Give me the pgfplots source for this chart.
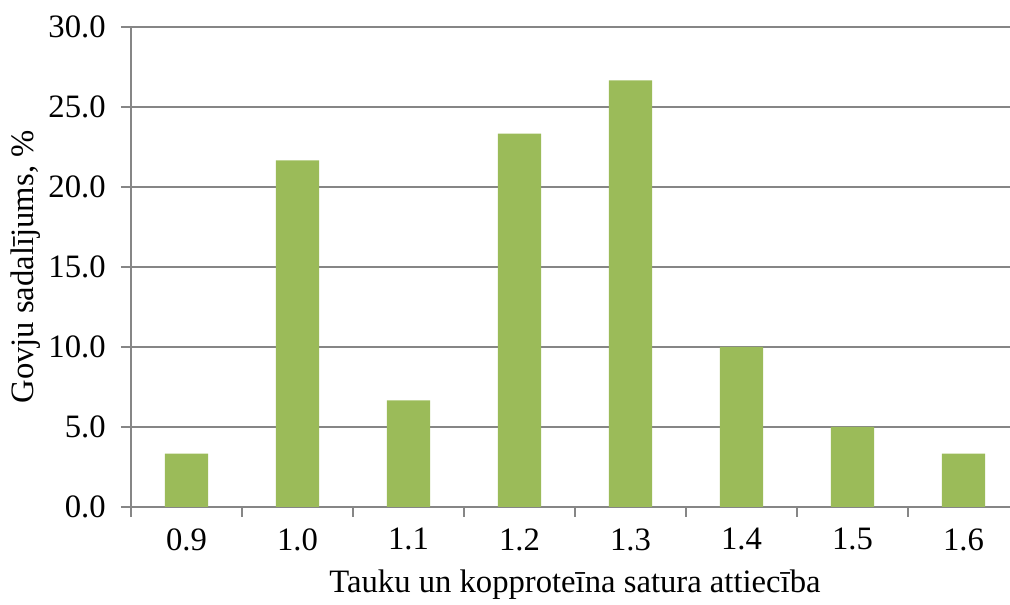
\documentclass[border=0pt]{standalone}
\usepackage{fontspec}
\setmainfont{Liberation Serif}
\usepackage{pgfplots}
\pgfplotsset{compat=1.18}
\definecolor{barg}{HTML}{9BBB59}
\definecolor{axg}{HTML}{868686}
\begin{document}
\begin{tikzpicture}
\useasboundingbox (0,0) rectangle (757.5pt,453.75pt);
\begin{axis}[
  at={(98.25pt,73.5pt)}, anchor=south west,
  scale only axis, width=666pt, height=360pt,
  xmin=-0.5, xmax=7.5, ymin=0, ymax=30,
  ytick={0,5,...,30},
  xtick={0,...,7},
  xticklabels={0.9,1.0,1.1,1.2,1.3,1.4,1.5,1.6},
  minor xtick={-0.5,0.5,...,7.5},
  major x tick style={draw=none},
  tick align=outside,
  major tick length=7.5pt, minor tick length=7.5pt,
  tick style={axg, line width=1.1pt},
  axis x line*=bottom, axis y line*=left,
  axis line style={axg, line width=1.1pt, -},
  ymajorgrids, grid style={axg, line width=1.1pt},
  yticklabel style={/pgf/number format/fixed, /pgf/number format/precision=1, /pgf/number format/fixed zerofill, xshift=-8pt},
  /pgf/number format/assume math mode=true,
  ticklabel style={font=\fontsize{24.5}{28}\selectfont},
  label style={font=\fontsize{24.5}{28}\selectfont},
  xticklabel style={yshift=-5pt},
  xlabel={Tauku un kopproteīna satura attiecība},
  ylabel={Govju sadalījums, \%},
  xlabel style={at={(axis description cs:0.5,-0.1625)}, anchor=center},
  ylabel style={at={(axis description cs:-0.119,0.5)}, anchor=center},
  ybar, bar width=32.25pt,
  clip=false,
]
\addplot[fill=barg, draw=none] coordinates {
(0,3.33) (1,21.67) (2,6.67) (3,23.33) (4,26.67) (5,10.0) (6,5.0) (7,3.33)};
\end{axis}
\end{tikzpicture}
\end{document}
